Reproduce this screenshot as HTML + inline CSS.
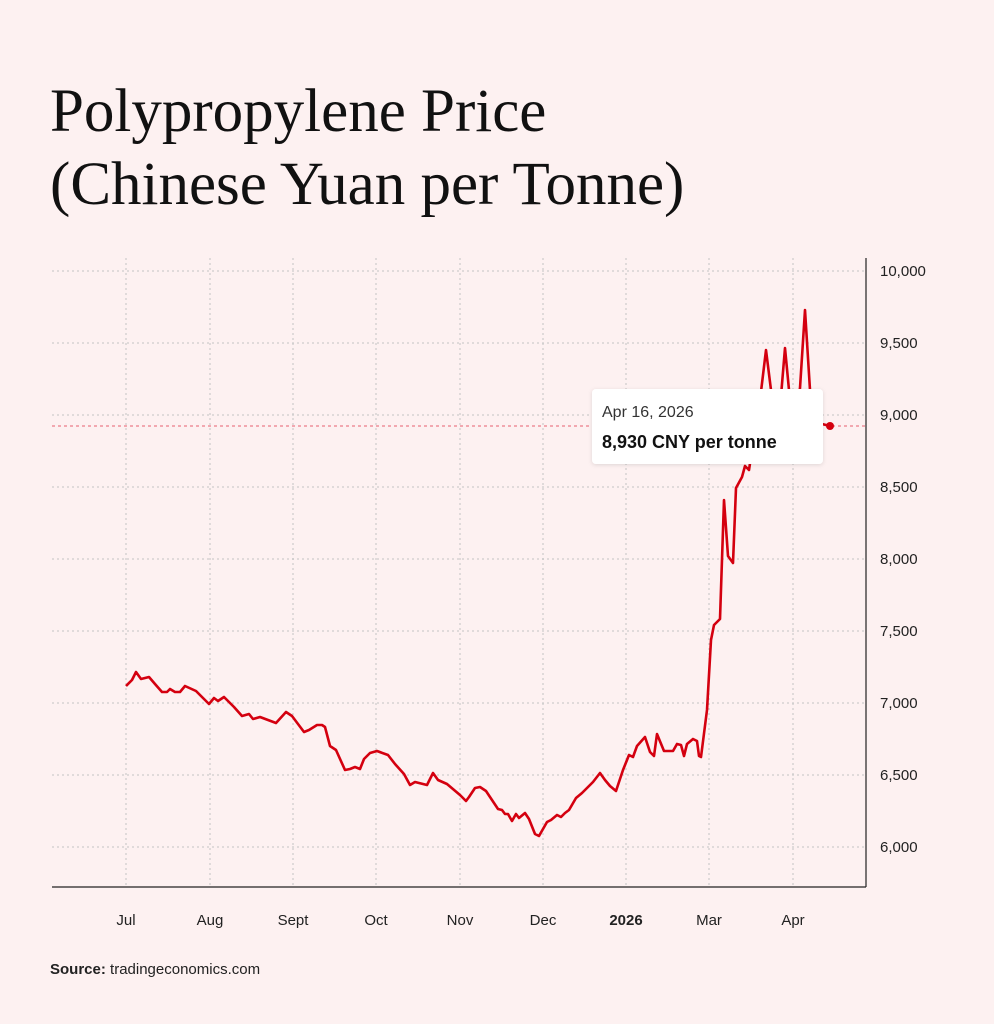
<!DOCTYPE html>
<html><head><meta charset="utf-8"><style>
body{margin:0;background:#fdf1f1;}
svg{display:block}
</style></head><body>
<svg width="994" height="1024" xmlns="http://www.w3.org/2000/svg">
<defs><filter id="sh" x="-10%" y="-20%" width="120%" height="140%"><feDropShadow dx="0" dy="1" stdDeviation="2" flood-color="#000" flood-opacity="0.12"/></filter></defs>
<rect width="994" height="1024" fill="#fdf1f1"/>
<text x="50" y="131" font-family="Liberation Serif, serif" font-size="61" fill="#111">Polypropylene Price</text>
<text x="50" y="204" font-family="Liberation Serif, serif" font-size="61" fill="#111">(Chinese Yuan per Tonne)</text>
<g stroke="#c4c4c4" stroke-width="1" stroke-dasharray="2,3">
<line x1="52" x2="866" y1="271" y2="271"/><line x1="52" x2="866" y1="343" y2="343"/><line x1="52" x2="866" y1="415" y2="415"/><line x1="52" x2="866" y1="487" y2="487"/><line x1="52" x2="866" y1="559" y2="559"/><line x1="52" x2="866" y1="631" y2="631"/><line x1="52" x2="866" y1="703" y2="703"/><line x1="52" x2="866" y1="775" y2="775"/><line x1="52" x2="866" y1="847" y2="847"/>
<line y1="258" y2="887" x1="126" x2="126"/><line y1="258" y2="887" x1="210" x2="210"/><line y1="258" y2="887" x1="293" x2="293"/><line y1="258" y2="887" x1="376" x2="376"/><line y1="258" y2="887" x1="460" x2="460"/><line y1="258" y2="887" x1="543" x2="543"/><line y1="258" y2="887" x1="626" x2="626"/><line y1="258" y2="887" x1="709" x2="709"/><line y1="258" y2="887" x1="793" x2="793"/>
</g>
<line x1="52" x2="866" y1="426" y2="426" stroke="#e86070" stroke-width="1" stroke-dasharray="3,3"/>
<line x1="866" x2="866" y1="258" y2="887" stroke="#222" stroke-width="1.2"/>
<line x1="52" x2="866" y1="887" y2="887" stroke="#222" stroke-width="1.2"/>
<g font-family="Liberation Sans, sans-serif" font-size="15" fill="#222">
<text x="880" y="276">10,000</text><text x="880" y="348">9,500</text><text x="880" y="420">9,000</text><text x="880" y="492">8,500</text><text x="880" y="564">8,000</text><text x="880" y="636">7,500</text><text x="880" y="708">7,000</text><text x="880" y="780">6,500</text><text x="880" y="852">6,000</text>
</g>
<g font-family="Liberation Sans, sans-serif" font-size="15" fill="#222" text-anchor="middle">
<text x="126" y="925">Jul</text><text x="210" y="925">Aug</text><text x="293" y="925">Sept</text><text x="376" y="925">Oct</text><text x="460" y="925">Nov</text><text x="543" y="925">Dec</text><text x="626" y="925" font-weight="bold">2026</text><text x="709" y="925">Mar</text><text x="793" y="925">Apr</text>
</g>
<polyline fill="none" stroke="#d4000f" stroke-width="2.6" stroke-linejoin="round" points="126,686 132,680 136,672 141,679 149,677 155,684 162,692 167,692 170,689 175,692 180,692 185,686 196,691 209,704 214,698 218,701 224,697 234,707 242,716 249,714 253,719 260,717 276,723 286,712 292,716 304,732 309,730 317,725 322,725 325,727 330,746 336,750 345,770 350,769 355,767 360,769 364,759 370,753 377,751 388,755 395,764 404,774 410,785 415,782 427,785 433,773 438,780 447,784 460,795 466,801 469,797 475,788 480,787 486,791 492,800 498,809 502,810 505,814 508,814 512,821 516,814 519,818 525,813 529,819 535,834 539,836 547,822 551,820 557,815 561,817 565,813 569,810 576,798 582,793 587,788 593,782 600,773 605,780 610,786 616,791 623,770 629,755 633,757 637,746 645,737 650,752 654,756 657,734 664,751 668,751 673,751 677,744 681,745 684,756 687,744 693,739 697,741 699,756 701,757 707,710 711,640 714,625 720,619 724,500 728,556 733,563 736,488 742,477 745,466 749,470 755,430 760,400 766,350 771,390 776,420 781,396 785,348 789,390 795,420 800,388 805,310 810,390 815,420 822,424 830,426"/>
<circle cx="830" cy="426" r="4" fill="#d4000f"/>
<rect x="592" y="389" width="231" height="75" rx="4" fill="#fff" filter="url(#sh)"/>
<text x="602" y="417" font-family="Liberation Sans, sans-serif" font-size="16" fill="#333">Apr 16, 2026</text>
<text x="602" y="448" font-family="Liberation Sans, sans-serif" font-size="18" font-weight="bold" fill="#111">8,930 CNY per tonne</text>
<text x="50" y="974" font-family="Liberation Sans, sans-serif" font-size="15" fill="#222"><tspan font-weight="bold">Source:</tspan> tradingeconomics.com</text>
</svg>
</body></html>
